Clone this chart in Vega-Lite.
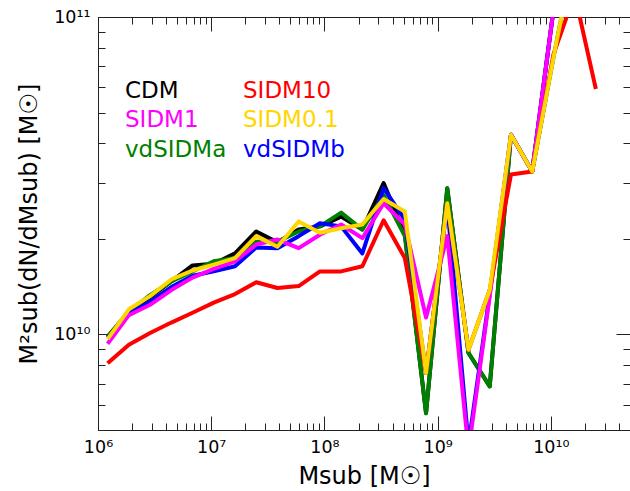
{
  "$schema": "https://vega.github.io/schema/vega-lite/v6.json",
  "width": 532,
  "height": 413,
  "autosize": {"type": "none"},
  "padding": {"left": 98, "top": 17, "right": 0, "bottom": 61},
  "background": "white",
  "config": {"view": {"stroke": null}, "font": "DejaVu Sans"},
  "data": {"values": [
    {"s": "CDM", "M": 1.216e6, "v": 9.83e9}, {"s": "CDM", "M": 1.873e6, "v": 1.18e10}, {"s": "CDM", "M": 2.884e6, "v": 1.31e10}, {"s": "CDM", "M": 4.442e6, "v": 1.47e10}, {"s": "CDM", "M": 6.839e6, "v": 1.65e10}, {"s": "CDM", "M": 1.053e7, "v": 1.67e10}, {"s": "CDM", "M": 1.622e7, "v": 1.80e10}, {"s": "CDM", "M": 2.497e7, "v": 2.11e10}, {"s": "CDM", "M": 3.846e7, "v": 1.95e10}, {"s": "CDM", "M": 5.923e7, "v": 2.14e10}, {"s": "CDM", "M": 9.120e7, "v": 2.19e10}, {"s": "CDM", "M": 1.404e8, "v": 2.35e10}, {"s": "CDM", "M": 2.163e8, "v": 2.14e10}, {"s": "CDM", "M": 3.331e8, "v": 3.00e10}, {"s": "CDM", "M": 5.129e8, "v": 2.08e10}, {"s": "CDM", "M": 7.898e8, "v": 5.65e9}, {"s": "CDM", "M": 1.216e9, "v": 2.89e10}, {"s": "CDM", "M": 1.873e9, "v": 8.74e9}, {"s": "CDM", "M": 2.884e9, "v": 6.86e9}, {"s": "CDM", "M": 4.442e9, "v": 4.26e10}, {"s": "CDM", "M": 6.839e9, "v": 3.26e10}, {"s": "CDM", "M": 1.053e10, "v": 1.05e11}, {"s": "CDM", "M": 1.622e10, "v": 2.5e11},
    {"s": "vdSIDMa", "M": 1.216e6, "v": 9.83e9}, {"s": "vdSIDMa", "M": 1.873e6, "v": 1.18e10}, {"s": "vdSIDMa", "M": 2.884e6, "v": 1.33e10}, {"s": "vdSIDMa", "M": 4.442e6, "v": 1.47e10}, {"s": "vdSIDMa", "M": 6.839e6, "v": 1.58e10}, {"s": "vdSIDMa", "M": 1.053e7, "v": 1.70e10}, {"s": "vdSIDMa", "M": 1.622e7, "v": 1.74e10}, {"s": "vdSIDMa", "M": 2.497e7, "v": 1.96e10}, {"s": "vdSIDMa", "M": 3.846e7, "v": 1.96e10}, {"s": "vdSIDMa", "M": 5.923e7, "v": 2.11e10}, {"s": "vdSIDMa", "M": 9.120e7, "v": 2.19e10}, {"s": "vdSIDMa", "M": 1.404e8, "v": 2.42e10}, {"s": "vdSIDMa", "M": 2.163e8, "v": 2.14e10}, {"s": "vdSIDMa", "M": 3.331e8, "v": 2.75e10}, {"s": "vdSIDMa", "M": 5.129e8, "v": 2.04e10}, {"s": "vdSIDMa", "M": 7.898e8, "v": 5.65e9}, {"s": "vdSIDMa", "M": 1.216e9, "v": 2.89e10}, {"s": "vdSIDMa", "M": 1.873e9, "v": 8.74e9}, {"s": "vdSIDMa", "M": 2.884e9, "v": 6.86e9}, {"s": "vdSIDMa", "M": 4.442e9, "v": 4.26e10}, {"s": "vdSIDMa", "M": 6.839e9, "v": 3.26e10}, {"s": "vdSIDMa", "M": 1.053e10, "v": 7.44e10}, {"s": "vdSIDMa", "M": 1.622e10, "v": 1.62e11},
    {"s": "vdSIDMb", "M": 1.216e6, "v": 9.76e9}, {"s": "vdSIDMb", "M": 1.873e6, "v": 1.16e10}, {"s": "vdSIDMb", "M": 2.884e6, "v": 1.27e10}, {"s": "vdSIDMb", "M": 4.442e6, "v": 1.41e10}, {"s": "vdSIDMb", "M": 6.839e6, "v": 1.53e10}, {"s": "vdSIDMb", "M": 1.053e7, "v": 1.58e10}, {"s": "vdSIDMb", "M": 1.622e7, "v": 1.64e10}, {"s": "vdSIDMb", "M": 2.497e7, "v": 1.88e10}, {"s": "vdSIDMb", "M": 3.846e7, "v": 1.87e10}, {"s": "vdSIDMb", "M": 5.923e7, "v": 2.04e10}, {"s": "vdSIDMb", "M": 9.120e7, "v": 2.24e10}, {"s": "vdSIDMb", "M": 1.404e8, "v": 2.19e10}, {"s": "vdSIDMb", "M": 2.163e8, "v": 1.80e10}, {"s": "vdSIDMb", "M": 3.331e8, "v": 2.89e10}, {"s": "vdSIDMb", "M": 5.129e8, "v": 2.3e10}, {"s": "vdSIDMb", "M": 7.898e8, "v": 7.56e9}, {"s": "vdSIDMb", "M": 1.216e9, "v": 2.56e10}, {"s": "vdSIDMb", "M": 1.873e9, "v": 4.5e9}, {"s": "vdSIDMb", "M": 2.884e9, "v": 1.34e10}, {"s": "vdSIDMb", "M": 4.442e9, "v": 4.26e10}, {"s": "vdSIDMb", "M": 6.839e9, "v": 3.26e10}, {"s": "vdSIDMb", "M": 1.053e10, "v": 1.05e11}, {"s": "vdSIDMb", "M": 1.622e10, "v": 2.5e11},
    {"s": "SIDM1", "M": 1.216e6, "v": 9.35e9}, {"s": "SIDM1", "M": 1.873e6, "v": 1.15e10}, {"s": "SIDM1", "M": 2.884e6, "v": 1.24e10}, {"s": "SIDM1", "M": 4.442e6, "v": 1.38e10}, {"s": "SIDM1", "M": 6.839e6, "v": 1.51e10}, {"s": "SIDM1", "M": 1.053e7, "v": 1.61e10}, {"s": "SIDM1", "M": 1.622e7, "v": 1.70e10}, {"s": "SIDM1", "M": 2.497e7, "v": 1.92e10}, {"s": "SIDM1", "M": 3.846e7, "v": 1.99e10}, {"s": "SIDM1", "M": 5.923e7, "v": 1.87e10}, {"s": "SIDM1", "M": 9.120e7, "v": 2.06e10}, {"s": "SIDM1", "M": 1.404e8, "v": 2.22e10}, {"s": "SIDM1", "M": 2.163e8, "v": 2.01e10}, {"s": "SIDM1", "M": 3.331e8, "v": 2.59e10}, {"s": "SIDM1", "M": 5.129e8, "v": 2.22e10}, {"s": "SIDM1", "M": 7.898e8, "v": 1.13e10}, {"s": "SIDM1", "M": 1.216e9, "v": 2.04e10}, {"s": "SIDM1", "M": 1.873e9, "v": 4.3e9}, {"s": "SIDM1", "M": 2.884e9, "v": 1.32e10}, {"s": "SIDM1", "M": 4.442e9, "v": 4.26e10}, {"s": "SIDM1", "M": 6.839e9, "v": 3.26e10}, {"s": "SIDM1", "M": 1.053e10, "v": 1.05e11}, {"s": "SIDM1", "M": 1.622e10, "v": 2.5e11},
    {"s": "SIDM10", "M": 1.216e6, "v": 8.11e9}, {"s": "SIDM10", "M": 1.873e6, "v": 9.28e9}, {"s": "SIDM10", "M": 2.884e6, "v": 1.01e10}, {"s": "SIDM10", "M": 4.442e6, "v": 1.09e10}, {"s": "SIDM10", "M": 6.839e6, "v": 1.17e10}, {"s": "SIDM10", "M": 1.053e7, "v": 1.26e10}, {"s": "SIDM10", "M": 1.622e7, "v": 1.34e10}, {"s": "SIDM10", "M": 2.497e7, "v": 1.46e10}, {"s": "SIDM10", "M": 3.846e7, "v": 1.40e10}, {"s": "SIDM10", "M": 5.923e7, "v": 1.42e10}, {"s": "SIDM10", "M": 9.120e7, "v": 1.58e10}, {"s": "SIDM10", "M": 1.404e8, "v": 1.58e10}, {"s": "SIDM10", "M": 2.163e8, "v": 1.64e10}, {"s": "SIDM10", "M": 3.331e8, "v": 2.29e10}, {"s": "SIDM10", "M": 5.129e8, "v": 1.74e10}, {"s": "SIDM10", "M": 7.898e8, "v": 7.56e9}, {"s": "SIDM10", "M": 1.216e9, "v": 2.59e10}, {"s": "SIDM10", "M": 1.873e9, "v": 8.95e9}, {"s": "SIDM10", "M": 2.884e9, "v": 1.38e10}, {"s": "SIDM10", "M": 4.442e9, "v": 3.19e10}, {"s": "SIDM10", "M": 6.839e9, "v": 3.26e10}, {"s": "SIDM10", "M": 1.053e10, "v": 7.61e10}, {"s": "SIDM10", "M": 1.622e10, "v": 1.18e11}, {"s": "SIDM10", "M": 2.497e10, "v": 5.93e10},
    {"s": "SIDM0.1", "M": 1.216e6, "v": 9.67e9}, {"s": "SIDM0.1", "M": 1.873e6, "v": 1.20e10}, {"s": "SIDM0.1", "M": 2.884e6, "v": 1.32e10}, {"s": "SIDM0.1", "M": 4.442e6, "v": 1.49e10}, {"s": "SIDM0.1", "M": 6.839e6, "v": 1.59e10}, {"s": "SIDM0.1", "M": 1.053e7, "v": 1.66e10}, {"s": "SIDM0.1", "M": 1.622e7, "v": 1.74e10}, {"s": "SIDM0.1", "M": 2.497e7, "v": 2.04e10}, {"s": "SIDM0.1", "M": 3.846e7, "v": 1.89e10}, {"s": "SIDM0.1", "M": 5.923e7, "v": 2.27e10}, {"s": "SIDM0.1", "M": 9.120e7, "v": 2.09e10}, {"s": "SIDM0.1", "M": 1.404e8, "v": 2.16e10}, {"s": "SIDM0.1", "M": 2.163e8, "v": 2.22e10}, {"s": "SIDM0.1", "M": 3.331e8, "v": 2.67e10}, {"s": "SIDM0.1", "M": 5.129e8, "v": 2.44e10}, {"s": "SIDM0.1", "M": 7.898e8, "v": 7.56e9}, {"s": "SIDM0.1", "M": 1.216e9, "v": 2.59e10}, {"s": "SIDM0.1", "M": 1.873e9, "v": 8.95e9}, {"s": "SIDM0.1", "M": 2.884e9, "v": 1.38e10}, {"s": "SIDM0.1", "M": 4.442e9, "v": 4.26e10}, {"s": "SIDM0.1", "M": 6.839e9, "v": 3.26e10}, {"s": "SIDM0.1", "M": 1.053e10, "v": 7.44e10}, {"s": "SIDM0.1", "M": 1.622e10, "v": 1.62e11}
  ]},
  "layer": [
    {
      "mark": {"type": "line", "strokeWidth": 4, "clip": true, "strokeJoin": "round"},
      "encoding": {
        "x": {
          "field": "M", "type": "quantitative",
          "scale": {"type": "log", "domain": [1e6, 5e10], "nice": false},
          "axis": {
            "orient": "bottom",
            "title": "Msub [M☉]",
            "titleFontSize": 24, "titleFontWeight": "normal", "titleColor": "black", "titlePadding": 2,
            "labelFontSize": 17.5, "labelColor": "black", "labelOverlap": false, "labelFlush": false,
            "labelExpr": "datum.value == 1e6 ? '10⁶' : datum.value == 1e7 ? '10⁷' : datum.value == 1e8 ? '10⁸' : datum.value == 1e9 ? '10⁹' : datum.value == 1e10 ? '10¹⁰' : ''",
            "tickSize": {"condition": {"test": "datum.value == 1e6 || datum.value == 1e7 || datum.value == 1e8 || datum.value == 1e9 || datum.value == 1e10", "value": -14}, "value": -7},
            "labelPadding": 22,
            "tickColor": "#222", "domainColor": "#222", "grid": false
          }
        },
        "y": {
          "field": "v", "type": "quantitative",
          "scale": {"type": "log", "domain": [5e9, 1e11], "nice": false},
          "axis": {
            "orient": "left",
            "title": "M²sub(dN/dMsub) [M☉]",
            "titleFontSize": 24, "titleFontWeight": "normal", "titleColor": "black", "titlePadding": 12,
            "labelFontSize": 17.5, "labelColor": "black", "labelOverlap": false, "labelFlush": false,
            "labelExpr": "datum.value == 1e10 ? '10¹⁰' : datum.value == 1e11 ? '10¹¹' : ''",
            "tickSize": {"condition": {"test": "datum.value == 1e10 || datum.value == 1e11", "value": -14}, "value": -7},
            "labelPadding": 22,
            "tickColor": "#222", "domainColor": "#222", "grid": false
          }
        },
        "color": {
          "field": "s", "type": "nominal",
          "scale": {
            "domain": ["CDM", "SIDM1", "vdSIDMa", "SIDM10", "SIDM0.1", "vdSIDMb"],
            "range": ["#000000", "#ff00ff", "#008000", "#ff0000", "#ffd700", "#0000ff"]
          },
          "legend": {
            "orient": "none", "legendX": 27, "legendY": 62, "columns": 2, "title": null,
            "symbolSize": 0, "symbolStrokeWidth": 0, "symbolOpacity": 0, "labelOffset": -23,
            "labelFontSize": 23, "labelLimit": 0, "rowPadding": 5.5, "columnPadding": 16,
            "encode": {"labels": {"update": {"fill": {"scale": "color", "field": "value"}}}}
          }
        }
      }
    },
    {
      "mark": {"type": "line", "opacity": 0, "clip": true},
      "encoding": {
        "x": {
          "field": "M", "type": "quantitative",
          "scale": {"type": "log", "domain": [1e6, 5e10], "nice": false},
          "axis": {
            "orient": "top", "title": null, "labels": false,
            "tickSize": {"condition": {"test": "datum.value == 1e6 || datum.value == 1e7 || datum.value == 1e8 || datum.value == 1e9 || datum.value == 1e10", "value": -14}, "value": -7},
            "tickColor": "#222", "domainColor": "#222", "grid": false
          }
        },
        "y": {
          "field": "v", "type": "quantitative",
          "scale": {"type": "log", "domain": [5e9, 1e11], "nice": false},
          "axis": {
            "orient": "right", "title": null, "labels": false,
            "tickSize": {"condition": {"test": "datum.value == 1e10 || datum.value == 1e11", "value": -14}, "value": -7},
            "tickColor": "#222", "domainColor": "#222", "grid": false
          }
        },
        "detail": {"field": "s"}
      }
    }
  ],
  "resolve": {"axis": {"x": "independent", "y": "independent"}}
}
